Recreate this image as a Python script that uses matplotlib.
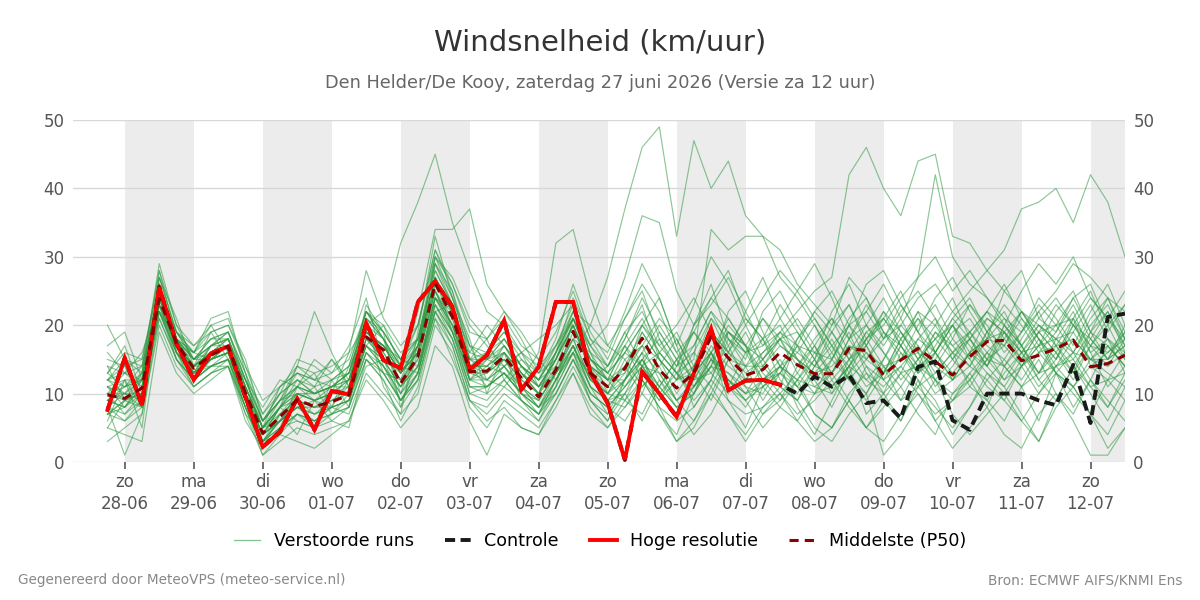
import numpy as np
import pandas as pd
import matplotlib
matplotlib.use("Agg")
import matplotlib.pyplot as plt
import matplotlib.dates as mdates
from matplotlib.lines import Line2D

# 6-hourly steps, 27-06 18:00 to 12-07 12:00
times = pd.date_range("2026-06-27 18:00", periods=60, freq="6h")

day_names = ["zo", "ma", "di", "wo", "do", "vr", "za",
             "zo", "ma", "di", "wo", "do", "vr", "za", "zo"]
day_dates = ["28-06", "29-06", "30-06", "01-07", "02-07", "03-07", "04-07",
             "05-07", "06-07", "07-07", "08-07", "09-07", "10-07", "11-07", "12-07"]

hres = [7.6, 15.2, 8.3, 25.6, 17.3, 12.0, 15.9, 16.9, 9.5, 2.2,
        4.4, 9.3, 4.7, 10.4, 9.9, 20.3, 14.9, 13.7, 23.4, 26.4,
        22.7, 13.5, 15.6, 20.7, 10.6, 13.9, 23.4, 23.4, 13.0, 8.6,
        0.3, 13.2, 10.0, 6.6, 13.0, 19.5, 10.5, 11.9, 12.0, 11.3]

control = [7.6, 15.2, 8.3, 25.6, 17.3, 12.0, 15.9, 16.9, 9.5, 2.2,
           4.4, 9.3, 4.7, 10.4, 9.9, 20.3, 14.9, 13.7, 23.4, 26.4,
           22.7, 13.5, 15.6, 20.7, 10.6, 13.9, 23.4, 23.4, 13.0, 8.6,
           0.3, 13.2, 10.0, 6.6, 13.0, 19.5, 10.5, 11.9, 12.0, 11.3,
           10.0, 12.5, 11.0, 12.7, 8.6, 9.0, 6.4, 13.9, 14.7, 6.1,
           4.7, 10.0, 10.0, 10.0, 9.0, 8.3, 14.2, 5.7, 21.2, 21.7]

p50 = [9.8, 9.3, 10.8, 23.9, 17.4, 13.7, 15.6, 16.9, 10.1, 4.2,
       6.6, 9.1, 8.1, 8.8, 9.8, 18.3, 16.4, 11.5, 15.4, 26.1,
       21.2, 13.2, 13.3, 15.4, 12.3, 9.5, 13.5, 19.1, 13.0, 11.0,
       13.7, 18.1, 13.5, 10.8, 13.0, 18.3, 15.2, 12.7, 13.5, 16.0,
       14.2, 12.9, 12.9, 16.6, 16.3, 12.7, 14.9, 16.6, 14.7, 12.7,
       15.4, 17.6, 17.8, 14.8, 15.6, 16.6, 17.8, 13.9, 14.4, 15.6]

members_txt = [
    "12 14 9 27 19 15 18 18 11 5 8 12 10 11 13 21 18 14 20 30 24 16 15 18 14 12 17 22 20 27 37 46 49 33 47 40 44 36 33 31 26 23 20 27 24 18 22 25 21 17 19 22 20 17 21 24 20 16 18 15",
    "9 8 12 22 16 13 15 16 9 3 6 8 7 8 9 16 14 10 14 24 19 11 11 14 10 8 13 17 12 10 12 16 13 9 12 17 14 12 16 19 22 25 27 42 46 40 36 44 45 33 32 28 25 22 20 18 16 15 17 14",
    "11 10 13 25 18 13 17 19 12 6 9 11 10 12 14 22 19 15 18 28 23 15 16 19 15 12 16 21 15 13 16 20 17 14 16 21 18 16 17 19 17 16 15 20 22 18 20 24 26 22 25 28 31 37 38 40 35 42 38 30",
    "8 7 10 21 15 12 14 15 8 2 5 7 6 7 8 15 13 9 13 22 18 10 9 12 9 7 11 16 10 8 11 15 11 8 10 15 13 10 12 14 12 11 10 15 18 20 24 27 42 30 26 24 21 19 22 25 29 27 24 22",
    "10 11 12 26 18 14 16 18 11 5 8 10 9 10 12 20 22 32 38 45 35 28 22 20 16 14 17 21 15 12 17 14 11 15 19 16 12 10 14 18 21 17 13 16 20 24 19 15 18 22 19 15 17 21 18 14 16 20 23 18",
    "9 10 10 23 17 14 15 16 9 4 6 9 8 9 10 17 15 13 22 34 34 37 26 22 18 13 15 20 14 12 13 20 24 17 11 14 22 25 19 14 11 15 20 23 17 13 18 22 16 12 16 21 19 14 17 22 25 19 15 20",
    "3 5 7 20 14 11 13 14 7 1 3 5 4 5 6 13 10 7 10 20 16 8 5 9 7 5 9 14 9 7 12 16 7 4 10 16 9 5 11 14 8 4 9 14 7 10 16 12 6 9 12 8 14 11 6 13 10 7 12 9",
    "14 13 14 28 20 17 19 20 14 7 11 14 13 14 16 28 21 17 20 31 26 19 18 21 17 15 19 25 18 16 22 29 24 17 23 30 26 20 24 28 25 21 17 20 26 28 23 19 24 27 22 18 25 28 21 19 24 26 20 23",
    "7 9 8 25 16 12 14 15 9 3 5 7 6 7 9 17 14 10 13 23 19 12 12 14 11 9 13 18 12 10 9 14 16 13 9 12 19 17 11 8 12 16 19 15 11 13 18 21 16 12 14 19 22 17 12 15 19 23 18 13",
    "13 17 10 26 18 15 17 18 11 5 8 11 10 11 12 19 17 13 16 27 22 14 14 16 13 11 15 20 14 12 17 12 9 14 19 15 11 16 21 18 13 10 15 20 17 12 9 14 19 16 11 15 20 17 13 18 22 16 11 14",
    "11 12 12 22 16 13 15 16 10 4 8 14 22 16 11 19 17 13 17 29 23 14 13 16 12 10 16 22 16 14 18 24 19 15 17 22 19 16 18 20 15 13 11 14 19 21 17 13 15 19 21 17 15 19 23 20 16 21 24 19",
    "20 15 13 29 20 15 17 18 11 5 7 9 8 10 11 18 15 11 14 24 20 12 11 13 10 8 11 16 11 9 12 15 10 7 13 16 11 8 12 15 11 7 5 9 14 10 6 12 9 4 8 13 11 7 3 9 14 10 6 11",
    "10 9 11 23 17 14 16 17 10 4 7 9 8 9 10 18 16 12 15 25 20 13 12 15 12 10 15 21 17 20 27 36 35 25 20 24 21 17 15 18 19 15 11 14 18 22 17 13 16 21 24 19 14 18 22 17 13 19 24 18",
    "9 8 11 24 18 14 17 17 10 4 8 11 9 8 12 19 17 14 16 24 21 13 13 15 12 16 32 34 24 17 15 11 14 18 13 9 15 19 14 11 18 21 17 14 17 22 19 15 18 20 16 14 19 22 18 15 20 24 21 17",
    "12 11 13 25 18 15 17 18 12 6 9 11 10 11 12 20 18 14 17 27 22 15 14 17 14 12 16 21 15 13 16 20 16 13 15 34 31 33 33 27 24 20 16 21 24 19 17 22 20 16 18 21 19 16 19 20 21 17 16 18",
    "5 4 3 19 13 10 12 14 8 3 4 3 2 4 6 12 9 5 8 17 14 6 1 7 5 4 8 13 8 5 8 12 8 3 6 11 7 3 7 10 6 3 5 9 5 3 7 10 6 2 5 8 4 2 7 10 6 1 1 5",
    "11 9 10 22 17 13 16 17 10 5 9 13 12 11 13 21 19 15 20 31 25 17 15 17 14 11 15 20 13 10 13 17 12 9 11 16 12 10 11 13 17 22 25 20 15 18 23 19 14 18 23 20 16 19 24 21 17 22 26 20",
    "8 6 9 22 16 12 15 16 9 3 6 8 7 8 9 17 15 11 14 23 18 11 10 12 9 7 12 17 11 9 10 6 11 15 8 12 18 14 9 13 17 12 8 13 18 14 9 11 16 20 15 11 9 14 18 13 8 12 17 14",
    "15 14 15 27 19 16 18 19 13 7 10 12 11 12 14 22 19 15 18 28 23 15 18 22 19 15 12 16 20 17 21 25 18 14 20 23 27 22 17 21 25 29 24 18 22 26 21 27 30 25 28 24 20 25 29 26 30 24 21 25",
    "10 10 9 26 17 13 14 16 9 3 7 10 10 11 11 19 17 13 17 27 22 12 13 15 11 8 10 15 9 6 10 15 18 13 10 14 19 16 12 9 14 18 21 16 12 15 20 17 13 16 19 22 18 15 19 23 20 17 14 18",
    "13 11 12 24 17 14 16 17 10 5 8 9 7 9 11 17 14 9 13 24 20 14 16 19 16 13 17 23 17 14 19 14 10 13 17 22 17 12 15 19 15 11 13 18 20 16 12 15 19 17 14 18 21 17 13 16 20 18 15 17",
    "7 8 10 23 16 13 15 16 8 2 5 7 5 6 8 15 12 8 12 22 17 9 8 11 9 7 10 15 10 8 11 14 10 7 11 15 12 9 11 13 10 14 17 12 9 13 17 14 10 12 16 13 10 14 17 13 11 15 18 16",
    "12 15 14 24 17 16 20 21 14 9 11 13 12 13 15 22 18 14 18 29 24 17 16 18 14 12 16 21 15 13 18 23 15 12 20 26 18 15 22 25 20 16 13 18 23 19 15 20 23 18 15 19 23 20 16 19 23 18 15 19",
    "9 12 8 23 17 12 15 17 10 4 6 8 9 10 10 18 17 13 16 25 21 14 12 14 11 9 13 18 12 10 14 10 16 19 14 11 16 20 15 11 9 14 18 13 10 15 19 16 11 14 18 14 11 15 19 16 12 17 20 15",
    "10 13 11 25 16 14 16 17 9 4 6 8 8 8 9 18 15 11 15 25 20 12 15 18 14 11 15 22 17 13 11 14 19 15 12 16 21 17 13 10 13 17 21 18 14 12 17 21 18 15 12 16 19 15 11 14 18 15 13 11",
    "8 1 7 21 15 12 14 15 8 2 5 6 5 7 8 16 13 9 13 23 19 11 11 13 10 8 12 17 11 9 8 11 14 9 6 10 15 11 7 9 12 7 5 10 13 9 6 11 8 5 8 12 9 6 10 14 11 7 4 9",
    "17 19 12 25 19 15 18 19 12 6 9 10 9 10 12 19 16 12 16 26 22 14 11 13 10 9 13 17 12 14 17 21 16 13 11 15 20 17 12 14 18 22 19 15 17 21 18 14 16 20 17 14 18 22 19 16 13 17 21 18",
    "8 10 12 26 17 13 15 16 9 3 6 9 11 15 12 22 20 16 18 30 26 20 17 14 16 18 20 23 16 12 9 12 8 6 8 12 9 7 8 10 7 9 12 8 5 9 13 10 7 9 11 9 13 16 12 9 14 11 8 12",
    "7 9 12 24 18 16 21 22 13 6 10 12 10 11 13 21 18 13 17 27 22 15 15 16 13 11 15 20 14 12 12 16 20 16 12 13 17 21 18 14 16 20 15 12 15 19 16 13 17 21 18 15 12 16 20 17 14 18 22 16",
    "12 10 8 22 15 11 13 15 9 4 6 8 6 8 9 16 13 9 12 21 17 9 7 10 8 6 10 15 10 8 6 10 7 3 5 10 7 4 8 11 9 5 3 7 10 1 4 8 12 7 4 7 10 6 3 8 11 7 2 5",
    "14 9 13 22 18 16 19 20 15 6 9 14 12 15 11 23 19 8 16 30 27 21 18 12 15 13 18 26 19 15 21 26 22 16 19 24 28 21 18 23 19 15 22 26 20 17 21 16 20 24 18 22 26 21 17 20 24 19 22 17",
    "6 12 5 24 16 11 13 14 6 2 7 4 9 6 5 15 12 6 11 21 15 9 6 8 5 4 9 13 7 5 9 7 12 8 4 7 12 9 5 8 6 10 13 9 5 8 11 7 4 10 13 9 6 11 15 10 7 12 9 6",
    "16 13 16 23 19 17 20 16 12 8 12 11 15 13 17 24 14 11 17 27 19 16 20 17 13 10 16 24 18 14 19 22 17 20 24 19 16 22 27 21 17 14 19 23 18 21 25 19 16 20 23 19 17 22 18 15 21 25 19 23",
    "10 7 9 27 21 14 14 15 7 4 8 6 5 12 8 21 11 7 19 33 24 18 10 16 9 6 11 21 14 9 12 19 15 10 14 21 16 13 15 18 14 17 12 15 19 16 13 18 21 15 19 16 14 17 20 18 15 19 17 14",
    "13 16 15 26 18 13 17 19 13 3 5 11 13 8 14 19 17 15 14 22 23 12 14 13 11 8 12 17 11 7 10 13 9 12 16 13 10 14 18 12 9 13 16 12 10 14 11 15 12 9 13 16 12 14 10 13 16 12 8 13",
    "5 9 10 24 17 15 16 18 12 5 11 13 11 7 10 17 20 14 13 24 22 17 12 11 14 12 14 18 16 10 15 17 21 18 13 16 19 17 21 17 15 12 15 19 13 11 14 17 12 15 18 14 20 16 13 17 21 14 16 19",
    "11 8 11 26 17 14 19 15 11 5 6 10 9 10 16 20 13 12 18 25 19 13 15 14 16 11 13 16 13 11 16 14 13 9 11 14 13 11 10 14 12 15 10 13 16 12 14 11 13 16 14 12 15 12 16 13 11 14 12 16",
    "9 11 14 25 19 16 15 17 10 6 10 15 14 12 13 22 18 10 17 29 25 15 13 17 13 10 13 19 15 12 14 17 15 12 14 19 15 14 16 18 16 14 13 17 15 13 15 16 14 12 16 18 17 14 16 17 18 15 14 16",
    "7 6 8 23 15 12 14 14 8 1 4 7 6 8 7 14 15 9 12 22 18 10 11 13 10 7 12 16 9 6 12 15 11 8 10 14 11 9 12 13 11 10 11 14 12 10 13 14 12 10 12 15 14 11 13 14 15 11 12 13",
    "12 13 12 28 18 15 15 17 11 5 8 10 9 11 13 19 17 13 16 26 22 14 14 16 13 10 14 20 14 11 14 19 15 12 13 19 16 14 14 17 15 13 14 17 16 14 15 18 16 13 16 18 19 16 17 18 19 15 15 17",
]
members = [[float(v) for v in row.split()] for row in members_txt]


def main():
    fig = plt.figure(figsize=(12, 6), dpi=100)
    ax = fig.add_axes([73 / 1200, 138 / 600, 1052 / 1200, 342 / 600])

    x = mdates.date2num(times)
    day_starts = pd.date_range("2026-06-28", periods=15, freq="D")
    xd = mdates.date2num(day_starts)

    # alternate day shading
    for i in range(0, len(xd), 2):
        ax.axvspan(xd[i], xd[i] + 1, color="#ececec", lw=0, zorder=0)

    for m in members:
        ax.plot(x, m, color="#2e9a41", alpha=0.55, lw=0.85, zorder=2)
    ax.plot(x, control, color="#1a1a1a", lw=2.8, dashes=(2.6, 1.4), zorder=3)
    ax.plot(x[:len(hres)], hres, color="#ff0000", lw=2.8, zorder=4,
            solid_joinstyle="miter")
    ax.plot(x, p50, color="#8b0000", lw=2.2, dashes=(3, 2), zorder=5)

    ax.set_xlim(x[0] - 0.5, x[-1])
    ax.set_ylim(0, 50)
    ax.set_yticks(range(0, 51, 10))
    ax.grid(axis="y", color="#d8d8d8", lw=1)
    ax.set_axisbelow(True)
    for s in ax.spines.values():
        s.set_visible(False)

    ax.set_xticks(xd)
    ax.set_xticklabels([f"{a}\n{b}" for a, b in zip(day_names, day_dates)],
                       fontsize=12, color="#555555", linespacing=1.3)
    ax.tick_params(axis="x", length=5, width=1.3, color="#666666", pad=3)
    ax.tick_params(axis="y", length=0, labelsize=12, labelcolor="#555555",
                   labelleft=True, labelright=True, pad=6)

    fig.text(0.5, 1 - 42 / 600, "Windsnelheid (km/uur)", ha="center",
             va="center", fontsize=21, color="#333333")
    fig.text(0.5, 1 - 83 / 600,
             "Den Helder/De Kooy, zaterdag 27 juni 2026 (Versie za 12 uur)",
             ha="center", va="center", fontsize=12.8, color="#666666")

    handles = [
        Line2D([], [], color="#2e9a41", alpha=0.6, lw=0.9),
        Line2D([], [], color="#1a1a1a", lw=2.8, dashes=(2.6, 1.4)),
        Line2D([], [], color="#ff0000", lw=2.8),
        Line2D([], [], color="#8b0000", lw=2.2, dashes=(3, 2)),
    ]
    labels = ["Verstoorde runs", "Controle", "Hoge resolutie", "Middelste (P50)"]
    fig.legend(handles, labels, loc="center", bbox_to_anchor=(0.5, 1 - 541 / 600),
               ncol=4, frameon=False, fontsize=12.6, handlelength=1.5,
               columnspacing=1.8, handletextpad=0.75)

    fig.text(18 / 1200, 1 - 580 / 600, "Gegenereerd door MeteoVPS (meteo-service.nl)",
             ha="left", va="center", fontsize=9.8, color="#888888")
    fig.text(1182 / 1200, 1 - 580 / 600, "Bron: ECMWF AIFS/KNMI Ens",
             ha="right", va="center", fontsize=9.8, color="#888888")

    fig.savefig("out.png", dpi=100)


if __name__ == "__main__":
    main()
